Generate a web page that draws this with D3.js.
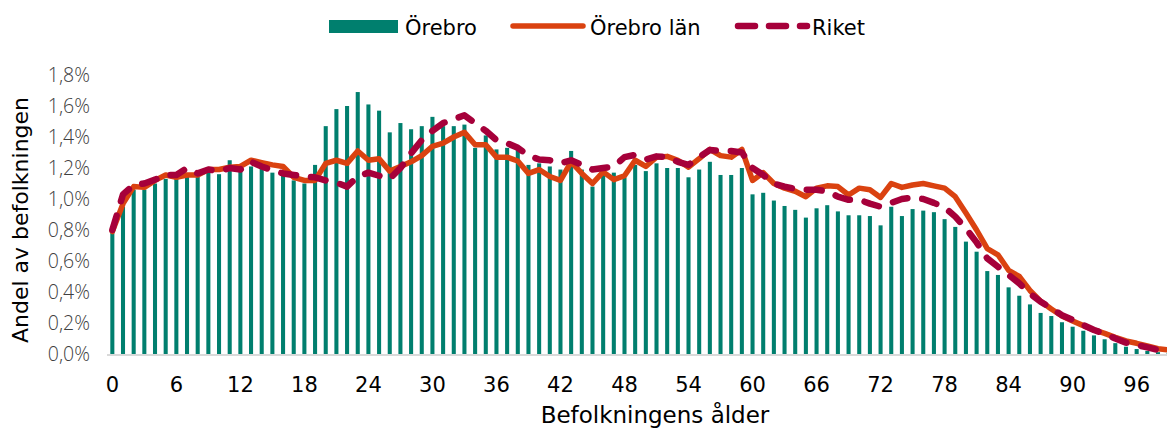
<!DOCTYPE html>
<html>
  <head>
    <meta charset="utf-8">
    <script type="text/javascript" src="https://cdn.jsdelivr.net/npm/d3@7"></script>
    <style>
      body { margin: 0; background: #fff; }
      .chart text { font-family: "DejaVu Sans", sans-serif; fill: #000; }
      .chart .ytick text { font-family: "Open Sans", "Noto Sans", sans-serif; font-weight: 300; fill: #404040; }
    </style>
  </head>
  <body>
    <div id="chart" class="chart"></div>
    <script type="text/javascript">
      // andel av befolkningen per ålder, i procent
      var ages = d3.range(0, 101);
      var orebro = [0.80, 0.95, 1.06, 1.06, 1.10, 1.13, 1.13, 1.15, 1.15, 1.17,
                    1.16, 1.25, 1.19, 1.21, 1.21, 1.17, 1.16, 1.12, 1.10, 1.22,
                    1.47, 1.58, 1.60, 1.69, 1.61, 1.57, 1.43, 1.49, 1.45, 1.47,
                    1.53, 1.47, 1.47, 1.48, 1.33, 1.41, 1.32, 1.33, 1.32, 1.22,
                    1.23, 1.21, 1.19, 1.31, 1.19, 1.08, 1.17, 1.17, 1.14, 1.22,
                    1.18, 1.23, 1.20, 1.20, 1.14, 1.19, 1.24, 1.155, 1.155, 1.20,
                    1.03, 1.04, 0.99, 0.955, 0.93, 0.88, 0.94, 0.96, 0.92, 0.895,
                    0.895, 0.89, 0.83, 0.95, 0.89, 0.935, 0.925, 0.915, 0.87, 0.82,
                    0.725, 0.66, 0.535, 0.51, 0.43, 0.376, 0.32, 0.265, 0.245, 0.205,
                    0.176, 0.15, 0.12, 0.095, 0.07, 0.047, 0.032, 0.02, 0.012, 0.007,
                    0.004];
      var orebroLan = [0.79, 0.97, 1.08, 1.075, 1.12, 1.155, 1.14, 1.155, 1.155, 1.19,
                       1.19, 1.205, 1.21, 1.25, 1.235, 1.22, 1.21, 1.14, 1.12, 1.12,
                       1.23, 1.25, 1.23, 1.31, 1.25, 1.26, 1.18, 1.21, 1.24, 1.28,
                       1.34, 1.36, 1.40, 1.43, 1.35, 1.35, 1.27, 1.27, 1.245, 1.165,
                       1.19, 1.145, 1.12, 1.24, 1.165, 1.10, 1.175, 1.125, 1.15, 1.25,
                       1.21, 1.27, 1.275, 1.25, 1.205, 1.26, 1.32, 1.28, 1.27, 1.32,
                       1.12, 1.17, 1.10, 1.07, 1.05, 1.015, 1.07, 1.085, 1.08, 1.026,
                       1.07, 1.06, 1.01, 1.10, 1.075, 1.09, 1.10, 1.085, 1.07, 1.015,
                       0.91, 0.80, 0.68, 0.64, 0.54, 0.50, 0.41, 0.34, 0.29, 0.245,
                       0.213, 0.183, 0.155, 0.133, 0.107, 0.084, 0.069, 0.052, 0.034, 0.026,
                       0.02];
      var riket = [0.80, 1.03, 1.09, 1.10, 1.125, 1.155, 1.155, 1.20, 1.165, 1.19,
                   1.18, 1.20, 1.19, 1.24, 1.21, 1.185, 1.165, 1.155, 1.145, 1.14,
                   1.12, 1.105, 1.08, 1.145, 1.17, 1.15, 1.13, 1.20, 1.295, 1.38,
                   1.44, 1.49, 1.515, 1.54, 1.49, 1.44, 1.38, 1.36, 1.33, 1.28,
                   1.255, 1.25, 1.23, 1.25, 1.22, 1.19, 1.20, 1.21, 1.27, 1.285,
                   1.255, 1.275, 1.27, 1.24, 1.22, 1.27, 1.316, 1.31, 1.31, 1.30,
                   1.20, 1.155, 1.10, 1.08, 1.065, 1.06, 1.06, 1.05, 1.015, 0.995,
                   0.995, 0.97, 0.95, 0.975, 1.00, 1.01, 1.00, 0.975, 0.946, 0.886,
                   0.81, 0.72, 0.617, 0.563, 0.51, 0.456, 0.39, 0.337, 0.295, 0.25,
                   0.22, 0.187, 0.155, 0.13, 0.10, 0.073, 0.058, 0.043, 0.026, 0.015,
                   0.01];
      var yTicks = [0, 0.2, 0.4, 0.6, 0.8, 1.0, 1.2, 1.4, 1.6, 1.8];
      var xTicks = [0, 6, 12, 18, 24, 30, 36, 42, 48, 54, 60, 66, 72, 78, 84, 90, 96];
      var seriesNames = ["Örebro", "Örebro län", "Riket"];

      var WIDTH = 1167, HEIGHT = 430,
          LEFT = 107, STEP = 10.67, BASE = 354, TOP = 75;
      var C_BAR = "#007F6E", C_LAN = "#DA4210", C_RIKET = "#A6003A";
      var DASH = "15,15";

      var svg = d3.select("#chart").append("svg")
        .attr("width", WIDTH).attr("height", HEIGHT);

      var x = d3.scaleBand().domain(ages).range([LEFT, LEFT + STEP * ages.length]);
      var y = d3.scaleLinear().domain([0, 1.8]).range([BASE, TOP]);
      var cx = function(a) { return x(a) + x.bandwidth() / 2; };
      var barW = x.bandwidth() * 0.38;

      // y axis labels, no line
      var yAxis = svg.append("g").attr("class", "ytick")
        .attr("transform", "translate(" + (LEFT - 6) + ",0)")
        .call(d3.axisLeft(y).tickValues(yTicks).tickSize(0).tickPadding(11)
          .tickFormat(function(d) { return d.toFixed(1).replace(".", ",") + "%"; }));
      yAxis.select(".domain").remove();
      yAxis.selectAll("text").attr("font-size", 19.5);

      // bars
      svg.append("g").selectAll("rect").data(ages).enter().append("rect")
        .attr("x", function(a) { return cx(a) - barW / 2; })
        .attr("width", barW)
        .attr("y", function(a, i) { return y(orebro[i]); })
        .attr("height", function(a, i) { return BASE - y(orebro[i]); })
        .attr("fill", C_BAR);

      // baseline
      svg.append("line")
        .attr("x1", LEFT).attr("x2", WIDTH)
        .attr("y1", BASE + 1).attr("y2", BASE + 1)
        .attr("stroke", "#d9d9d9").attr("stroke-width", 2);

      var line = d3.line()
        .x(function(a) { return cx(a); });

      svg.append("path")
        .attr("d", line.y(function(a, i) { return y(orebroLan[i]); })(ages))
        .attr("fill", "none").attr("stroke", C_LAN)
        .attr("stroke-width", 5.5).attr("stroke-linejoin", "round").attr("stroke-linecap", "round");

      svg.append("path")
        .attr("d", line.y(function(a, i) { return y(riket[i]); })(ages))
        .attr("fill", "none").attr("stroke", C_RIKET)
        .attr("stroke-width", 6.5).attr("stroke-linejoin", "round").attr("stroke-linecap", "round")
        .attr("stroke-dasharray", DASH);

      // x axis labels
      var xAxis = svg.append("g")
        .attr("transform", "translate(0," + BASE + ")")
        .call(d3.axisBottom(x).tickValues(xTicks).tickSize(0).tickPadding(0));
      xAxis.select(".domain").remove();
      xAxis.selectAll("text").attr("font-size", 21).attr("fill", "#000")
        .attr("dy", null).attr("y", 38);

      // titles
      svg.append("text")
        .attr("x", 655).attr("y", 423)
        .attr("text-anchor", "middle").attr("font-size", 23)
        .text("Befolkningens ålder");
      svg.append("text")
        .attr("transform", "translate(28,220) rotate(-90)")
        .attr("text-anchor", "middle").attr("font-size", 22)
        .text("Andel av befolkningen");

      // legend
      var lg = svg.append("g").attr("transform", "translate(0,26)");
      lg.append("rect").attr("x", 329).attr("y", -6).attr("width", 69).attr("height", 13).attr("fill", C_BAR);
      lg.append("text").attr("x", 405).attr("y", 9).attr("font-size", 21).text(seriesNames[0]);
      lg.append("line").attr("x1", 513).attr("x2", 583).attr("y1", 0).attr("y2", 0)
        .attr("stroke", C_LAN).attr("stroke-width", 5.5).attr("stroke-linecap", "round");
      lg.append("text").attr("x", 590).attr("y", 9).attr("font-size", 21).text(seriesNames[1]);
      lg.append("line").attr("x1", 738).attr("x2", 807).attr("y1", 0).attr("y2", 0)
        .attr("stroke", C_RIKET).attr("stroke-width", 6.5).attr("stroke-linecap", "round")
        .attr("stroke-dasharray", "17,14");
      lg.append("text").attr("x", 812).attr("y", 9).attr("font-size", 21).text(seriesNames[2]);
    </script>
  </body>
</html>
